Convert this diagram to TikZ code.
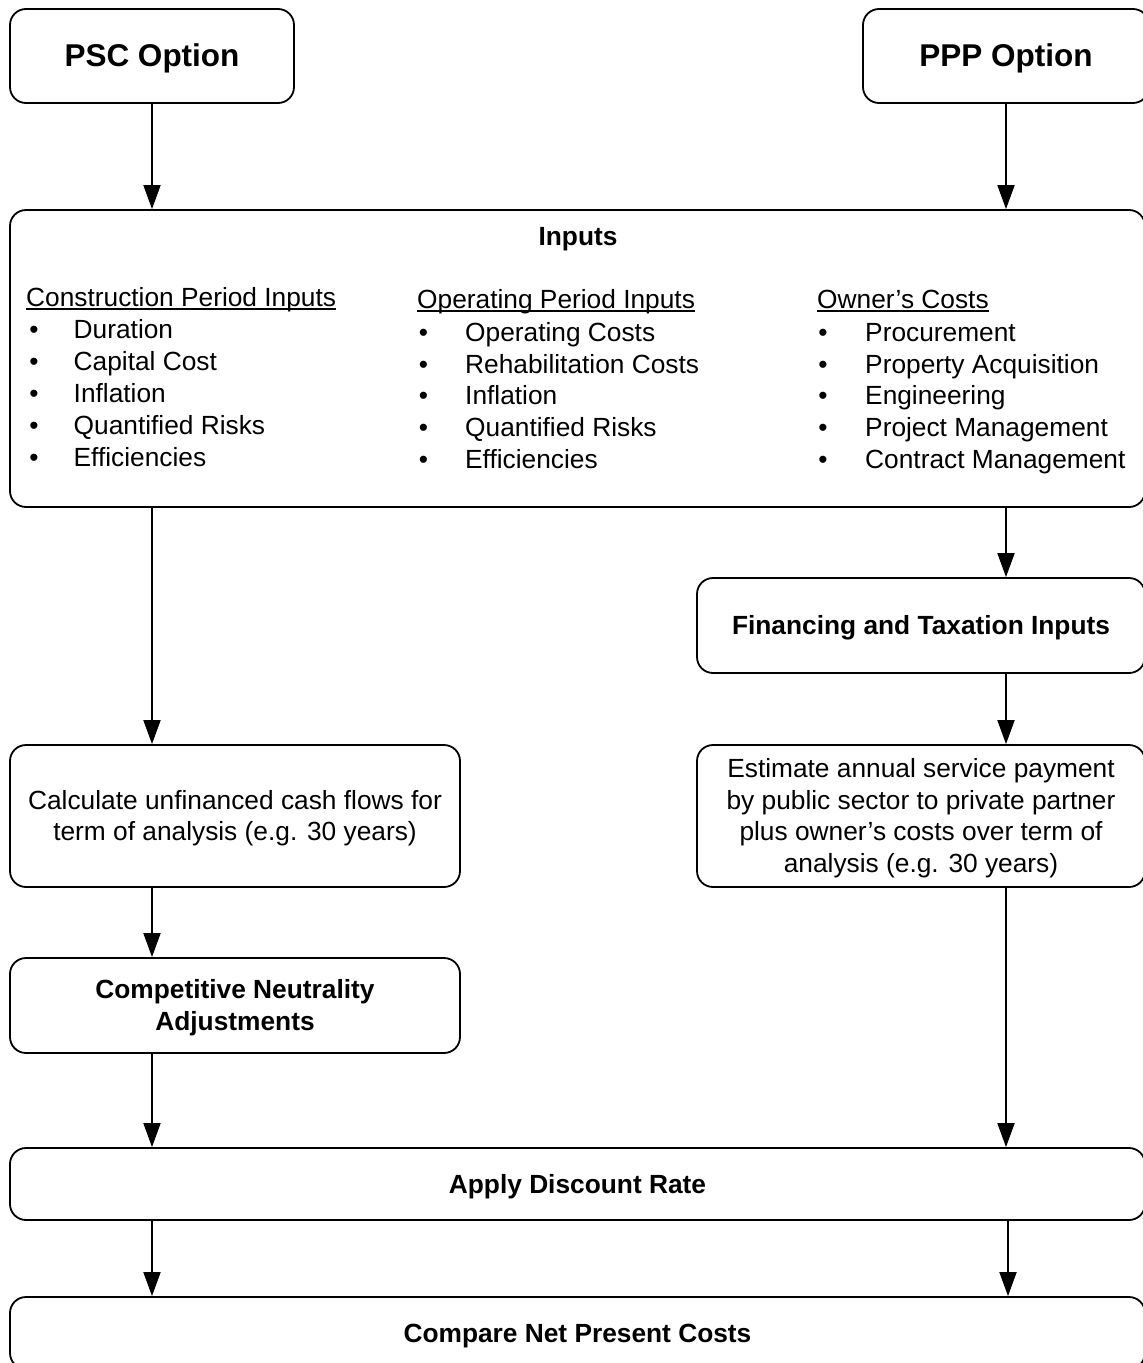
\documentclass[tikz,border=0pt]{standalone}
\usepackage{fontspec}
\setmainfont{Liberation Sans}
\usetikzlibrary{arrows.meta,calc}
\newsavebox{\myulbox}
\newcommand{\ulhead}[1]{\sbox{\myulbox}{#1}\rlap{\rule[-3.2pt]{\wd\myulbox}{1.4pt}}\usebox{\myulbox}}
\newcommand{\dn}{\rule{0pt}{23.5pt}}
\newcommand{\dnbig}{\rule{0pt}{28pt}}
\tikzset{
  box/.style={draw, line width=1.8pt, rounded corners=16pt, align=center, inner sep=0pt,
    font=\fontsize{26.3}{31.8}\selectfont},
  boldbox/.style={box, font=\fontsize{26.3}{31.8}\bfseries\selectfont},
  bigbox/.style={box, font=\fontsize{31.5}{36}\bfseries\selectfont},
  txt/.style={inner sep=0pt, font=\fontsize{26.3}{31.8}\selectfont},
  arr/.style={line width=1.8pt, -{Triangle[length=24pt,width=17pt]}}
}
\begin{document}
\begin{tikzpicture}[x=1pt,y=-1pt]
\useasboundingbox (0,0) rectangle (1143,1363);
\clip (0,0) rectangle (1143,1363);
\coordinate (L) at (152,0);
\coordinate (R) at (1006,0);
% boxes
\node[bigbox, minimum width=284, minimum height=94] (psc) at (152,56) {\dnbig PSC Option};
\node[bigbox, minimum width=286, minimum height=94] (ppp) at (1006,56) {\dnbig PPP Option};
\node[box, minimum width=1135, minimum height=297] (inputs) at (577.5,358.5) {};
\node[boldbox, minimum width=448, minimum height=95] (fin) at (921,625.5) {\dn Financing and Taxation Inputs};
\node[box, minimum width=450, minimum height=142] (calc) at (235,816) {\dn Calculate unfinanced cash flows for\\term of analysis (e.g. 30 years)};
\node[box, minimum width=448, minimum height=142] (est) at (921,816) {\dn Estimate annual service payment\\by public sector to private partner\\plus owner’s costs over term of\\analysis (e.g. 30 years)};
\node[boldbox, minimum width=450, minimum height=95] (comp) at (235,1005.5) {\dn Competitive Neutrality\\Adjustments};
\node[boldbox, minimum width=1135, minimum height=72] (apply) at (577.5,1184) {\dn Apply Discount Rate};
\node[boldbox, minimum width=1135, minimum height=72] (cmp) at (577.5,1333) {\dn Compare Net Present Costs};
% inputs content
\node[txt, anchor=base, font=\fontsize{26.3}{31.8}\bfseries\selectfont] (intitle) at (578,245) {Inputs};
\node[txt, anchor=base west] (h1) at (26,306.5) {\ulhead{Construction Period Inputs}};
\node[txt, anchor=base west] (h2) at (417,308.5) {\ulhead{Operating Period Inputs}};
\node[txt, anchor=base west] (h3) at (817,308.5) {\ulhead{Owner’s Costs}};
\foreach \t [count=\i] in {Duration, Capital Cost, Inflation, Quantified Risks, Efficiencies}{
  \node[txt, anchor=base] (b1-\i) at (34,{338.5+32*(\i-1)}) {•};
  \node[txt, anchor=base west] (t1-\i) at (73.5,{338.5+32*(\i-1)}) {\t};
}
\foreach \t [count=\i] in {Operating Costs, Rehabilitation Costs, Inflation, Quantified Risks, Efficiencies}{
  \node[txt, anchor=base] (b2-\i) at (423.5,{341.5+31.7*(\i-1)}) {•};
  \node[txt, anchor=base west] (t2-\i) at (465,{341.5+31.7*(\i-1)}) {\t};
}
\foreach \t [count=\i] in {Procurement, Property Acquisition, Engineering, Project Management, Contract Management}{
  \node[txt, anchor=base] (b3-\i) at (823,{341.5+31.7*(\i-1)}) {•};
  \node[txt, anchor=base west] (t3-\i) at (865,{341.5+31.7*(\i-1)}) {\t};
}
% connectors
\draw[arr] (psc.south) -- (psc.south |- inputs.north);
\draw[arr] (ppp.south) -- (ppp.south |- inputs.north);
\draw[arr] (inputs.south -| L) -- (calc.north -| L);
\draw[arr] (inputs.south -| R) -- (fin.north -| R);
\draw[arr] (fin.south -| R) -- (est.north -| R);
\draw[arr] (calc.south -| L) -- (comp.north -| L);
\draw[arr] (comp.south -| L) -- (apply.north -| L);
\draw[arr] (est.south -| R) -- (apply.north -| R);
\draw[arr] (apply.south -| L) -- (cmp.north -| L);
\draw[arr] ($(apply.south -| R)+(2,0)$) -- ($(cmp.north -| R)+(2,0)$);
\end{tikzpicture}
\end{document}
